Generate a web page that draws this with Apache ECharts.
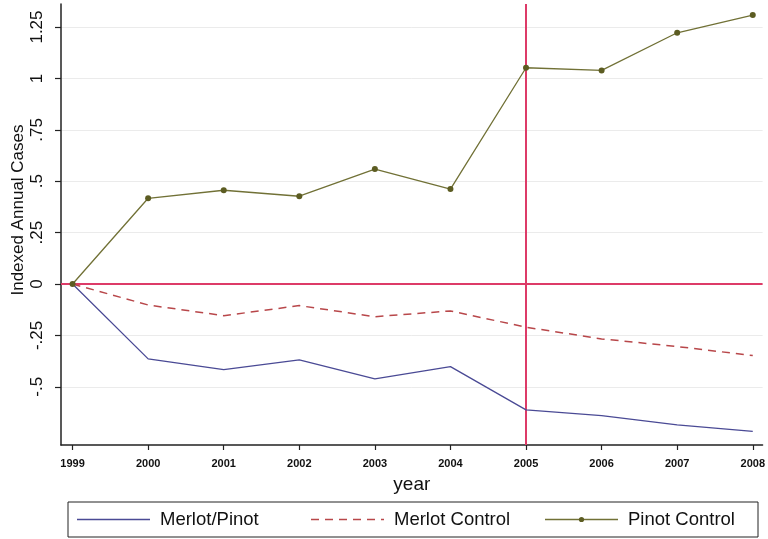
<!DOCTYPE html>
<html>
<head>
<meta charset="utf-8">
<script src="https://cdn.jsdelivr.net/npm/echarts@6/dist/echarts.min.js"></script>
<style>
  html, body { margin: 0; padding: 0; background: #ffffff; }
  #chart { width: 768px; height: 539px; }
</style>
</head>
<body>
<div id="chart"></div>
<script>
// Indexed annual cases by year, relative to 1999
const years = [1999, 2000, 2001, 2002, 2003, 2004, 2005, 2006, 2007, 2008];
const merlotPinot   = [0, -0.364, -0.416, -0.369, -0.461, -0.402, -0.612, -0.640, -0.685, -0.717];
const merlotControl = [0, -0.102, -0.154, -0.105, -0.159, -0.131, -0.210, -0.267, -0.304, -0.348];
const pinotControl  = [0,  0.417,  0.456,  0.427,  0.559,  0.462,  1.052,  1.039,  1.222,  1.308];

const seriesNames = ['Merlot/Pinot', 'Merlot Control', 'Pinot Control'];
const yTickValues = [-0.5, -0.25, 0, 0.25, 0.5, 0.75, 1, 1.25];
const yTickLabels = ['-.5', '-.25', '0', '.25', '.5', '.75', '1', '1.25'];
const xTickLabels = ['1999', '2000', '2001', '2002', '2003', '2004', '2005', '2006', '2007', '2008'];
const refYear = 2005;
const refValue = 0;

const toPairs = vals => years.map((y, i) => [y, vals[i]]);

const RED = '#dd3b68';
const FONT = '"Liberation Sans", Arial, sans-serif';

// line styles shared by the series and the key boxes below the plot
const styles = [
  { color: '#4a4a95', width: 1.3, dash: null, dot: false },
  { color: '#b8474a', width: 1.5, dash: [8, 6], dot: false },
  { color: '#717136', width: 1.3, dash: null, dot: true, dotColor: '#5c5c22' }
];

// key box: three equal columns inside a framed box
const keyBox = { x: 68, y: 502, w: 690, h: 35 };
const keyStart = 77, keyCol = 234, keyLen = 73, keyTextGap = 10;
const keyMidY = keyBox.y + keyBox.h / 2;

const keyGraphics = [{
  type: 'rect',
  shape: { x: keyBox.x, y: keyBox.y, width: keyBox.w, height: keyBox.h },
  style: { fill: 'none', stroke: '#222', lineWidth: 1 },
  silent: true
}];
seriesNames.forEach((name, i) => {
  const s = styles[i];
  const x0 = keyStart + i * keyCol;
  keyGraphics.push({
    type: 'line',
    shape: { x1: x0, y1: keyMidY, x2: x0 + keyLen, y2: keyMidY },
    style: { stroke: s.color, lineWidth: s.width, lineDash: s.dash || null },
    silent: true
  });
  if (s.dot) {
    keyGraphics.push({
      type: 'circle',
      shape: { cx: x0 + keyLen / 2, cy: keyMidY, r: 2.6 },
      style: { fill: s.dotColor },
      silent: true
    });
  }
  keyGraphics.push({
    type: 'text',
    x: x0 + keyLen + keyTextGap,
    y: keyMidY,
    style: {
      text: name, fontSize: 18.5, fontFamily: FONT, fill: '#111',
      align: 'left', verticalAlign: 'middle'
    },
    silent: true
  });
});

const chart = echarts.init(document.getElementById('chart'), null, { renderer: 'canvas' });

chart.setOption({
  animation: false,
  backgroundColor: '#ffffff',
  textStyle: { fontFamily: FONT },
  grid: { left: 61, right: 1, top: 4, bottom: 94, containLabel: false },
  xAxis: {
    type: 'value',
    min: 1998.847,
    max: 2008.13,
    name: 'year',
    nameLocation: 'middle',
    nameGap: 30,
    nameTextStyle: { fontSize: 19, color: '#111', fontFamily: FONT },
    axisLine: { show: true, onZero: false, lineStyle: { color: '#222', width: 1.5 } },
    axisTick: { show: true, length: 5, lineStyle: { color: '#222', width: 1.2 }, customValues: years },
    axisLabel: {
      customValues: years,
      formatter: v => xTickLabels[years.indexOf(Math.round(v))],
      fontSize: 11, fontWeight: 'bold', color: '#111', margin: 13, fontFamily: FONT
    },
    splitLine: { show: false }
  },
  yAxis: {
    type: 'value',
    min: -0.783,
    max: 1.362,
    axisLine: { show: true, onZero: false, lineStyle: { color: '#222', width: 1.5 } },
    axisTick: { show: true, length: 6, lineStyle: { color: '#222', width: 1.2 }, customValues: yTickValues },
    axisLabel: {
      customValues: yTickValues,
      rotate: 90,
      formatter: v => {
        const i = yTickValues.findIndex(t => Math.abs(t - v) < 1e-6);
        return i >= 0 ? yTickLabels[i] : '';
      },
      fontSize: 17, color: '#111', margin: 15, fontFamily: FONT
    },
    splitLine: { show: true, lineStyle: { color: '#ebebeb', width: 1 } }
  },
  graphic: keyGraphics.concat([
    {
      type: 'text',
      x: 18,
      y: 210,
      rotation: Math.PI / 2,
      style: {
        text: 'Indexed Annual Cases',
        fontSize: 17,
        fontFamily: FONT,
        fill: '#111',
        align: 'center',
        verticalAlign: 'middle'
      },
      silent: true
    }
  ]),
  series: [
    {
      name: seriesNames[0],
      type: 'line',
      data: toPairs(merlotPinot),
      symbol: 'none',
      lineStyle: { color: styles[0].color, width: styles[0].width },
      itemStyle: { color: styles[0].color },
      z: 3
    },
    {
      name: seriesNames[1],
      type: 'line',
      data: toPairs(merlotControl),
      symbol: 'none',
      lineStyle: { color: styles[1].color, width: styles[1].width, type: styles[1].dash },
      itemStyle: { color: styles[1].color },
      z: 3
    },
    {
      name: seriesNames[2],
      type: 'line',
      data: toPairs(pinotControl),
      symbol: 'circle',
      symbolSize: 6,
      showSymbol: true,
      lineStyle: { color: styles[2].color, width: styles[2].width },
      itemStyle: { color: styles[2].dotColor },
      z: 4,
      markLine: {
        silent: true,
        symbol: 'none',
        label: { show: false },
        lineStyle: { color: RED, width: 2, type: 'solid' },
        z: 2,
        data: [{ yAxis: refValue }, { xAxis: refYear }]
      }
    }
  ]
});
</script>
</body>
</html>
